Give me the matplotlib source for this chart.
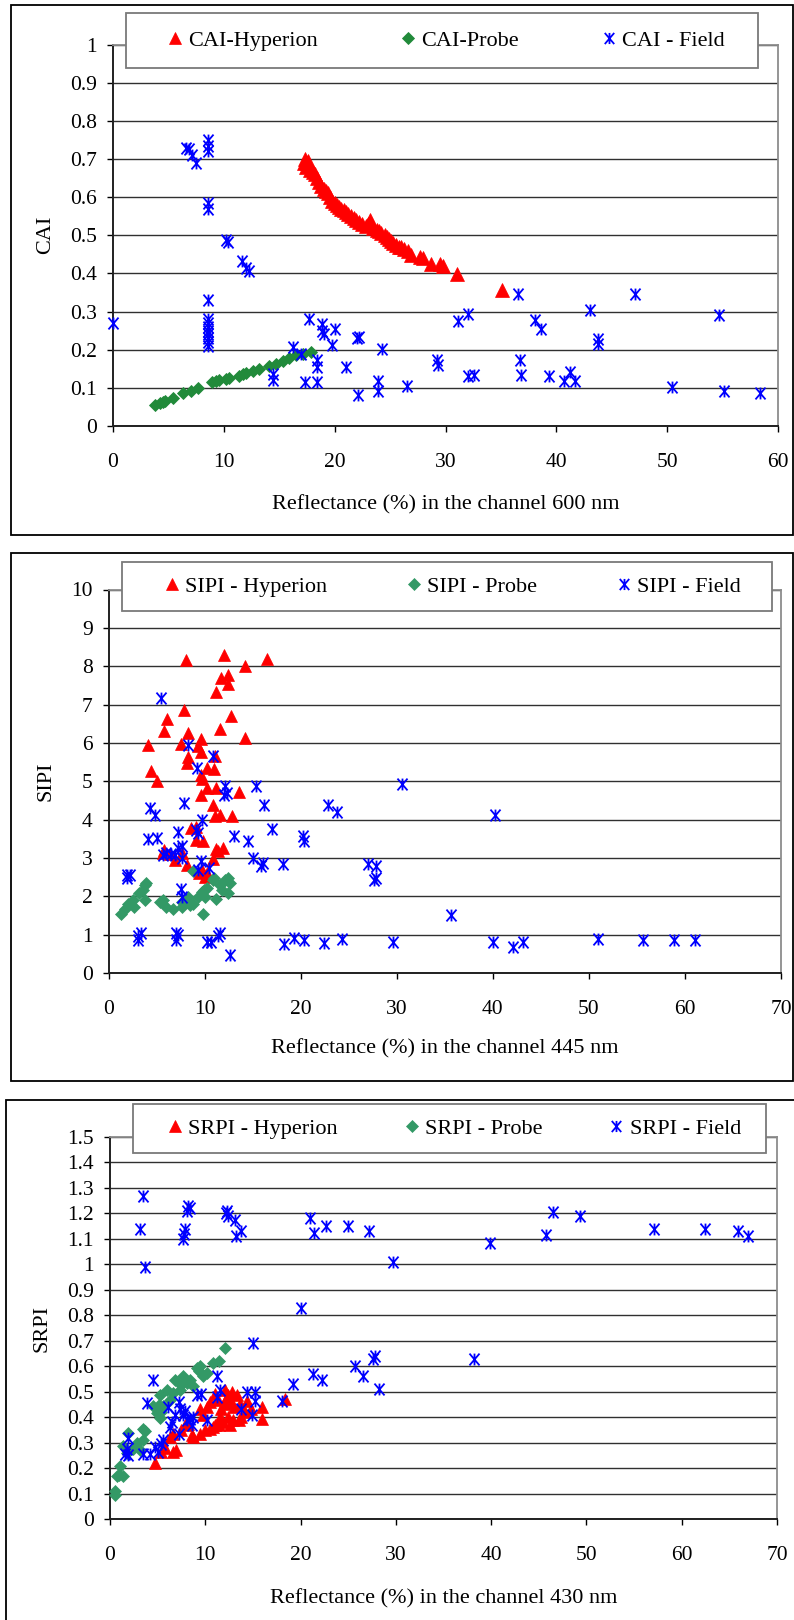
import matplotlib
matplotlib.use("Agg")
import matplotlib.pyplot as plt
import numpy as np
from matplotlib.path import Path
from matplotlib.lines import Line2D
from matplotlib.patches import Rectangle

# ---- CAI panel (600 nm) ----
cai_hyp_x = [17.2, 17.3, 17.4, 17.5, 17.6, 17.8, 18.0, 18.2, 18.4, 18.6, 18.8, 19.0,
             19.2, 19.4, 19.6, 19.8, 20.0, 20.2, 20.4, 20.6, 20.8, 21.0, 21.2, 21.5,
             21.7, 21.9, 22.2, 22.5, 22.8, 23.0, 23.2, 23.3, 23.5, 23.8, 24.0, 24.2,
             24.5, 24.7, 24.9, 25.1, 25.3, 25.5, 25.8, 26.0, 26.3, 26.6, 26.9, 27.7,
             28.0, 28.7, 29.5, 29.8, 31.0, 35.1]
cai_hyp_y = [0.69, 0.70, 0.68, 0.69, 0.695, 0.67, 0.665, 0.66, 0.65, 0.64, 0.63, 0.62,
             0.615, 0.61, 0.60, 0.59, 0.585, 0.58, 0.575, 0.57, 0.565, 0.56, 0.555,
             0.55, 0.545, 0.54, 0.535, 0.53, 0.525, 0.53, 0.54, 0.53, 0.52, 0.515,
             0.51, 0.505, 0.50, 0.495, 0.49, 0.485, 0.48, 0.475, 0.47, 0.47, 0.465,
             0.46, 0.447, 0.443, 0.44, 0.425, 0.425, 0.42, 0.398, 0.357]

cai_probe_x = [3.8, 4.2, 4.5, 4.7, 5.4, 6.3, 7.0, 7.7, 8.9, 9.3, 9.6, 10.2, 10.5,
               11.4, 11.7, 12.0, 12.6, 13.2, 14.1, 14.7, 15.3, 15.9, 16.5, 17.1, 17.9]
cai_probe_y = [0.055, 0.06, 0.062, 0.065, 0.073, 0.087, 0.093, 0.10, 0.115, 0.118,
               0.12, 0.122, 0.125, 0.13, 0.135, 0.14, 0.145, 0.15, 0.158, 0.163,
               0.17, 0.178, 0.185, 0.19, 0.195]

cai_field_x = [0.0, 6.6, 6.9, 7.1, 7.5, 8.6, 8.6, 8.6, 8.6, 8.6, 10.2, 10.4, 11.6,
               12.0, 12.3, 8.6, 8.6, 8.6, 8.6, 8.6, 8.6, 8.6, 8.6, 8.6, 14.4, 14.4,
               16.2, 17.0, 17.3, 17.7, 18.4, 18.4, 18.4, 18.9, 18.9, 19.0, 20.0,
               19.8, 21.0, 22.0, 22.2, 22.1, 23.9, 23.9, 24.3, 26.5, 29.2, 29.3,
               31.1, 32.0, 32.0, 32.6, 36.5, 36.7, 36.8, 38.1, 38.6, 39.3, 40.7,
               41.2, 41.7, 43.0, 43.8, 43.8, 47.1, 50.4, 54.7, 55.1, 58.4]
cai_field_y = [0.27, 0.73, 0.725, 0.71, 0.69, 0.75, 0.735, 0.72, 0.585, 0.57,
               0.487, 0.483, 0.433, 0.415, 0.405, 0.33, 0.28, 0.27, 0.26, 0.25,
               0.24, 0.23, 0.22, 0.21, 0.135, 0.12, 0.208, 0.19, 0.115, 0.28,
               0.172, 0.155, 0.115, 0.267, 0.25, 0.24, 0.255, 0.213, 0.155, 0.23,
               0.232, 0.082, 0.118, 0.092, 0.203, 0.105, 0.173, 0.159, 0.276,
               0.294, 0.132, 0.134, 0.346, 0.173, 0.134, 0.278, 0.254, 0.13,
               0.119, 0.141, 0.119, 0.305, 0.227, 0.215, 0.346, 0.103, 0.292,
               0.092, 0.087]

# ---- SIPI panel (445 nm) ----
sipi_hyp_x = [8.1, 12.0, 16.5, 14.2, 11.7, 12.4, 12.4, 11.2, 7.9, 6.1, 12.7, 5.8,
              11.6, 8.3, 4.1, 7.5, 9.6, 14.2, 9.3, 9.6, 11.1, 8.2, 8.3, 4.4, 5.0,
              10.3, 11.0, 9.7, 9.6, 10.3, 11.2, 13.6, 9.6, 10.9, 11.6, 11.1, 12.9,
              8.6, 9.1, 9.1, 9.8, 11.2, 11.9, 11.4, 5.8, 5.7, 6.4, 6.9, 7.6, 8.2,
              9.4, 9.7, 10.9, 10.3, 10.0]
sipi_hyp_y = [8.15, 8.30, 8.19, 8.0, 7.69, 7.77, 7.54, 7.32, 6.87, 6.62, 6.71, 6.31,
              6.36, 6.25, 5.94, 5.97, 6.11, 6.12, 5.92, 5.76, 5.66, 5.47, 5.62, 5.27,
              5.0, 5.35, 5.31, 5.05, 5.15, 4.83, 4.83, 4.71, 4.64, 4.37, 4.13, 4.09,
              4.09, 3.78, 3.82, 3.47, 3.45, 3.23, 3.26, 3.17, 3.21, 3.12, 3.10, 2.95,
              3.12, 2.82, 2.6, 2.69, 2.97, 2.6, 2.5]

sipi_probe_x = [1.3, 1.7, 2.0, 2.5, 2.7, 3.2, 3.75, 3.75, 3.6, 5.7, 6.0, 6.7, 7.6,
                7.7, 8.3, 8.8, 8.8, 9.3, 9.7, 9.8, 10.0, 10.3, 10.9, 11.2, 11.6,
                12.1, 12.4, 12.6, 12.4, 3.9, 5.4, 8.5, 11.0, 11.8, 9.9]
sipi_probe_y = [1.55, 1.68, 1.81, 1.90, 1.73, 2.08, 2.29, 1.9, 2.16, 1.9, 1.73, 1.68,
                1.73, 1.86, 1.99, 1.81, 2.67, 1.99, 2.12, 1.55, 1.99, 2.21, 2.42,
                1.94, 2.29, 2.42, 2.08, 2.34, 2.47, 2.35, 1.86, 1.77, 2.48, 2.17, 2.17]

sipi_field_x = [5.5, 1.9, 1.9, 2.2, 3.1, 3.4, 3.1, 4.1, 5.0, 4.3, 4.8, 5.7, 6.0, 6.5,
                6.9, 7.2, 7.6, 7.2, 7.6, 7.9, 7.0, 7.0, 7.2, 7.5, 7.7, 8.3, 9.2, 9.7,
                9.1, 9.3, 9.6, 9.3, 10.9, 10.5, 10.3, 10.7, 11.6, 11.4, 12.1, 12.3,
                12.0, 12.6, 13.1, 14.5, 15.0, 15.4, 15.9, 16.1, 16.2, 17.0, 18.2,
                18.3, 19.3, 20.4, 20.2, 20.4, 22.4, 22.8, 23.8, 24.3, 27.0, 27.8,
                27.8, 27.65, 29.6, 30.6, 40.2, 35.7, 40.0, 42.1, 43.1, 51.0, 55.6,
                58.9, 61.1]
sipi_field_y = [7.16, 2.56, 2.47, 2.55, 0.96, 1.03, 0.87, 3.5, 3.53, 4.30, 4.13, 3.08,
                3.12, 3.1, 3.08, 3.25, 3.3, 3.67, 3.0, 4.42, 1.03, 0.87, 0.98, 2.2,
                1.99, 5.94, 5.35, 4.0, 3.74, 3.65, 2.91, 2.69, 5.66, 2.73, 0.81, 0.81,
                1.03, 0.96, 4.87, 4.70, 4.65, 0.46, 3.58, 3.43, 3.0, 4.87, 2.79, 2.88,
                4.37, 3.75, 2.84, 0.76, 0.91, 0.87, 3.56, 3.43, 0.79, 4.37, 4.2, 0.89,
                2.83, 2.79, 2.48, 2.43, 0.8, 4.94, 4.12, 1.52, 0.82, 0.67, 0.82, 0.89,
                0.86, 0.86, 0.86]

# ---- SRPI panel (430 nm) ----
srpi_hyp_x = [4.7, 5.4, 5.8, 6.9, 6.65, 6.3, 6.65, 7.5, 7.9, 8.2, 8.6, 8.75, 9.45,
              9.8, 9.45, 9.98, 10.5, 11.0, 11.4, 10.5, 11.0, 11.2, 12.1, 12.4, 12.8,
              11.9, 12.4, 12.6, 12.95, 13.3, 13.65, 14.2, 13.5, 13.8, 14.35, 15.95,
              15.9, 18.4, 11.6, 12.0, 10.8, 13.0, 14.8, 12.2, 12.7, 11.5, 10.2]
srpi_hyp_y = [0.22, 0.263, 0.28, 0.27, 0.263, 0.322, 0.335, 0.348, 0.368, 0.374,
              0.328, 0.322, 0.433, 0.407, 0.335, 0.348, 0.354, 0.368, 0.368, 0.459,
              0.492, 0.466, 0.505, 0.485, 0.498, 0.381, 0.40, 0.368, 0.387, 0.485,
              0.452, 0.42, 0.387, 0.40, 0.465, 0.44, 0.394, 0.472, 0.43, 0.45, 0.36,
              0.44, 0.43, 0.47, 0.455, 0.40, 0.44]

srpi_probe_x = [0.5, 0.5, 0.9, 1.4, 1.05, 1.4, 1.85, 1.75, 2.8, 3.15, 3.5, 3.7, 4.55,
                4.9, 5.25, 5.2, 5.6, 5.95, 6.3, 6.65, 6.8, 7.5, 7.7, 8.05, 8.4, 9.1,
                9.3, 9.45, 9.8, 10.15, 10.85, 11.4, 12.1, 8.75, 7.35, 0.7, 2.4, 3.5,
                5.1, 5.4]
srpi_probe_y = [0.109, 0.095, 0.174, 0.168, 0.207, 0.285, 0.338, 0.26, 0.298, 0.272,
                0.312, 0.344, 0.442, 0.416, 0.488, 0.397, 0.442, 0.508, 0.469, 0.495,
                0.547, 0.527, 0.56, 0.534, 0.547, 0.593, 0.58, 0.6, 0.56, 0.573,
                0.613, 0.619, 0.671, 0.521, 0.508, 0.17, 0.275, 0.355, 0.446, 0.42]

srpi_field_x = [3.5, 3.1, 3.7, 7.9, 7.8, 7.7, 8.2, 8.4, 8.1, 12.25, 12.2, 12.4, 13.1,
                13.2, 13.7, 21.0, 21.4, 22.7, 25.0, 27.2, 29.7, 20.0, 15.05, 25.7,
                26.6, 27.65, 27.8, 28.2, 39.9, 38.2, 45.8, 46.5, 49.3, 57.1, 62.4,
                65.9, 67.0, 4.55, 3.85, 1.9, 1.75, 1.6, 1.9, 3.5, 4.2, 4.7, 5.4, 5.0,
                5.6, 6.1, 6.3, 6.5, 6.8, 7.2, 7.35, 7.2, 7.7, 7.9, 8.05, 8.4, 8.6,
                8.75, 9.1, 9.6, 10.15, 11.2, 11.2, 11.55, 13.8, 14.35, 14.9, 15.2,
                15.2, 18.0, 19.25, 21.35, 22.2]
srpi_field_y = [1.27, 1.14, 0.99, 1.14, 1.12, 1.10, 1.23, 1.22, 1.21, 1.21, 1.20,
                1.19, 1.175, 1.11, 1.13, 1.18, 1.125, 1.15, 1.15, 1.13, 1.01, 0.83,
                0.69, 0.60, 0.56, 0.63, 0.64, 0.51, 1.084, 0.628, 1.116, 1.204,
                1.188, 1.139, 1.139, 1.132, 1.113, 0.544, 0.455, 0.318, 0.273,
                0.257, 0.25, 0.257, 0.257, 0.283, 0.296, 0.263, 0.309, 0.44, 0.36,
                0.38, 0.407, 0.459, 0.433, 0.335, 0.407, 0.426, 0.387, 0.394, 0.368,
                0.40, 0.485, 0.492, 0.387, 0.563, 0.479, 0.505, 0.433, 0.498, 0.407,
                0.498, 0.465, 0.465, 0.531, 0.57, 0.544]

W, H = 794, 1620
RED = "#ff0000"
BLUE = "#0000ff"

# Excel-like asterisk: an x with a vertical bar
ASTERISK = Path([(-0.85, -1), (0.85, 1), (-0.85, 1), (0.85, -1), (0, -1), (0, 1)],
                [Path.MOVETO, Path.LINETO, Path.MOVETO, Path.LINETO,
                 Path.MOVETO, Path.LINETO])


def px_rect(left, top, right, bottom):
    return [left / W, 1 - bottom / H, (right - left) / W, (bottom - top) / H]


def draw_panel(fig, ax_box, frame_box, leg_box, leg_x, series, xmax, xstep, ymax,
               ystep, ylabel, xlabel, colsp, ylab_x, xlab_y):
    # outer frame around the panel
    l, t, r, b = frame_box
    fig.add_artist(Rectangle((l / W, 1 - b / H), (r - l) / W, (b - t) / H,
                             transform=fig.transFigure, fill=False,
                             ec="black", lw=1.3, zorder=1))

    ax = fig.add_axes(px_rect(*ax_box))
    handles = []
    for x, y, label, marker, color, ms, leg_ms, mew in series:
        face = "none" if marker is ASTERISK else color
        ax.plot(x, y, ls="none", marker=marker, ms=ms, mfc=face, mec=color,
                mew=mew, clip_on=False, zorder=3)
        h = Line2D([], [], ls="none", marker=marker, ms=leg_ms, mfc=face,
                   mec=color, mew=mew)
        handles.append((h, label))

    ax.set_xlim(0, xmax)
    ax.set_ylim(0, ymax)
    xt = np.arange(0, xmax + xstep / 2, xstep)
    yt = np.arange(0, ymax + ystep / 2, ystep)
    ax.set_xticks(xt)
    ax.set_xticklabels([f"{v:g}" for v in xt])
    ax.set_yticks(yt)
    ax.set_yticklabels([f"{round(v, 2):g}" for v in yt])
    ax.tick_params(axis="both", direction="out", length=4.5, width=1.0,
                   labelsize=15.5, colors="black")
    ax.tick_params(axis="x", pad=15)
    ax.tick_params(axis="y", pad=7)
    ax.yaxis.grid(True, color="#303030", lw=1.0)
    ax.set_axisbelow(True)
    for side in ("top", "right"):
        ax.spines[side].set_color("#8c8c8c")
        ax.spines[side].set_linewidth(1.3)
    for side in ("left", "bottom"):
        ax.spines[side].set_color("#202020")
        ax.spines[side].set_linewidth(1.4)

    ax.set_ylabel(ylabel, fontsize=16)
    ax.yaxis.set_label_coords((ylab_x - ax_box[0]) / (ax_box[2] - ax_box[0]), 0.5)
    ax.set_xlabel(xlabel, fontsize=16)
    ax.xaxis.set_label_coords(0.5, (ax_box[3] - xlab_y) / (ax_box[3] - ax_box[1]))

    # legend frame drawn on top of the plot area, entries placed inside it
    l, t, r, b = leg_box
    fig.add_artist(Rectangle((l / W, 1 - b / H), (r - l) / W, (b - t) / H,
                             transform=fig.transFigure, fc="white",
                             ec="#7a7a7a", lw=1.3, zorder=2))
    fig.legend([h for h, _ in handles], [s for _, s in handles], ncol=3,
               loc="center left", bbox_to_anchor=(leg_x / W, 1 - (t + b) / 2 / H),
               frameon=False, fontsize=16, handlelength=0.8, handletextpad=0.2,
               columnspacing=colsp, borderpad=0, borderaxespad=0)
    return ax


def main():
    plt.rcParams["font.family"] = ["Liberation Serif", "DejaVu Serif"]
    fig = plt.figure(figsize=(W / 100, H / 100), dpi=100)

    draw_panel(fig, (113, 44.5, 778, 426), (11, 5, 793, 535), (126, 13, 758, 68), 166,
               [(cai_hyp_x, cai_hyp_y, "CAI-Hyperion", "^", RED, 10, 8.5, 0.5),
                (cai_probe_x, cai_probe_y, "CAI-Probe", "D", "#218a3a", 6, 6, 0.6),
                (cai_field_x, cai_field_y, "CAI - Field", ASTERISK, BLUE, 8.5, 8, 1.3)],
               60, 10, 1.0, 0.1, "CAI", "Reflectance (%) in the channel 600 nm",
               3.65, 55, 495)

    draw_panel(fig, (108.5, 589.5, 781, 973), (11, 553, 793, 1081), (122, 562, 772, 611),
               163,
               [(sipi_hyp_x, sipi_hyp_y, "SIPI - Hyperion", "^", RED, 8.5, 8.5, 0.5),
                (sipi_probe_x, sipi_probe_y, "SIPI - Probe", "D", "#339966", 6.5, 6, 0.5),
                (sipi_field_x, sipi_field_y, "SIPI - Field", ASTERISK, BLUE, 8.5, 8, 1.3)],
               70, 10, 10, 1, "SIPI", "Reflectance (%) in the channel 445 nm",
               3.5, 55, 1039)

    draw_panel(fig, (110, 1137, 777, 1519), (6, 1100, 800, 1630), (133, 1104, 766, 1153),
               166,
               [(srpi_hyp_x, srpi_hyp_y, "SRPI - Hyperion", "^", RED, 8.5, 8.5, 0.5),
                (srpi_probe_x, srpi_probe_y, "SRPI - Probe", "D", "#339966", 6.5, 6, 0.5),
                (srpi_field_x, srpi_field_y, "SRPI - Field", ASTERISK, BLUE, 8.5, 8, 1.3)],
               70, 10, 1.5, 0.1, "SRPI", "Reflectance (%) in the channel 430 nm",
               2.92, 51, 1589)

    fig.savefig("out.png", dpi=100)


if __name__ == "__main__":
    main()
